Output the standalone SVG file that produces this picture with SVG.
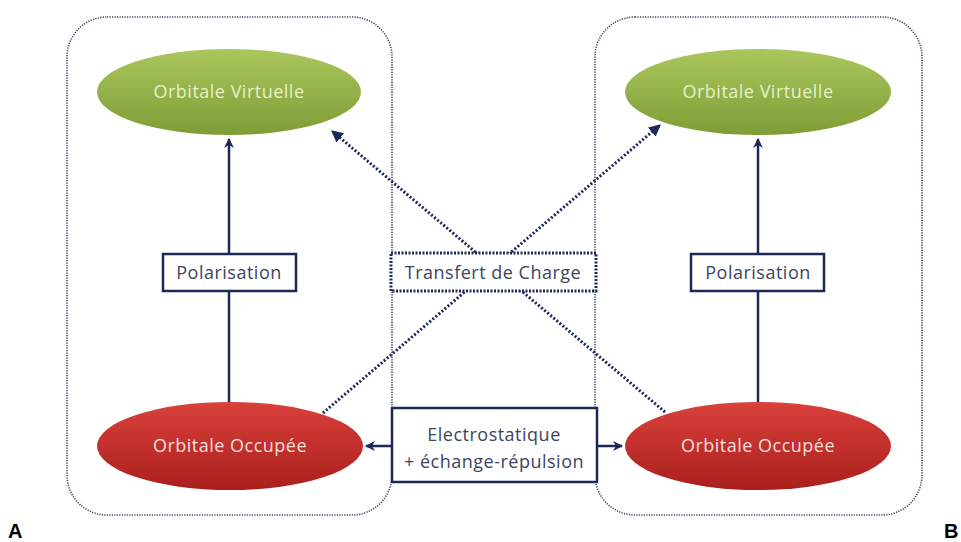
<svg xmlns="http://www.w3.org/2000/svg" width="961" height="542" viewBox="0 0 961 542">
<defs>
<linearGradient id="gGreen" x1="0" y1="0" x2="0" y2="1">
<stop offset="0" stop-color="#a9c75c"/>
<stop offset="1" stop-color="#7f9d35"/>
</linearGradient>
<linearGradient id="gRed" x1="0" y1="0" x2="0" y2="1">
<stop offset="0" stop-color="#d9413b"/>
<stop offset="1" stop-color="#aa1f1d"/>
</linearGradient>
<marker id="arr" viewBox="0 0 10 10" refX="9" refY="5" markerWidth="4" markerHeight="4" orient="auto-start-reverse" markerUnits="strokeWidth">
<path d="M0,0 L10,5 L0,10 L3,5 Z" fill="#1c2858"/>
</marker>
<marker id="arrD" viewBox="0 0 10 10" refX="9" refY="5" markerWidth="4" markerHeight="4" orient="auto" markerUnits="strokeWidth">
<path d="M0,0 L10,5 L0,10 Z" fill="#1c2858"/>
</marker>
<style>
.container{fill:none;stroke:#3e4460;stroke-width:1.6;stroke-dasharray:1.2 1.3}
.oval-text{font-family:"Open Sans","Liberation Sans",sans-serif;font-size:18px;letter-spacing:0.5px;text-anchor:middle}
.box{fill:#fff;stroke:#1c2858;stroke-width:2.5}
.box-text{font-family:"Open Sans","Liberation Sans",sans-serif;font-size:18px;letter-spacing:0.5px;fill:#3c4560;text-anchor:middle}
.solid{stroke:#1c2858;stroke-width:2.5;fill:none}
.dotted{stroke:#1c2858;stroke-width:3;fill:none;stroke-dasharray:2 2}
.label{font-family:"Liberation Sans",Arial,sans-serif;font-size:20px;font-weight:bold;fill:#000}
</style>
</defs>
<rect width="961" height="542" fill="#fff"/>

<g id="containerA"><rect class="container" x="67" y="17" width="325" height="498" rx="40" ry="40"/></g>
<g id="containerB"><rect class="container" x="595" y="17" width="327" height="498" rx="40" ry="40"/></g>

<g id="connectors">
<line class="dotted" x1="323" y1="413" x2="660" y2="125" marker-end="url(#arrD)"/>
<line class="dotted" x1="665" y1="412" x2="332" y2="131" marker-end="url(#arrD)"/>
<line class="solid" x1="229" y1="402" x2="229" y2="139" marker-end="url(#arr)"/>
<line class="solid" x1="758" y1="402" x2="758" y2="139" marker-end="url(#arr)"/>
<line class="solid" x1="392" y1="446" x2="366" y2="446" marker-end="url(#arr)"/>
<line class="solid" x1="597" y1="446" x2="622" y2="446" marker-end="url(#arr)"/>
</g>

<g id="virtA">
<ellipse cx="229" cy="92" rx="132" ry="43" fill="url(#gGreen)"/>
<text class="oval-text" x="229" y="98" fill="#e6f0c8">Orbitale Virtuelle</text>
</g>
<g id="virtB">
<ellipse cx="758" cy="92" rx="133" ry="43" fill="url(#gGreen)"/>
<text class="oval-text" x="758" y="98" fill="#e6f0c8">Orbitale Virtuelle</text>
</g>
<g id="occA">
<ellipse cx="230" cy="446" rx="133" ry="44" fill="url(#gRed)"/>
<text class="oval-text" x="230" y="452" fill="#f6dede">Orbitale Occupée</text>
</g>
<g id="occB">
<ellipse cx="758" cy="446" rx="133" ry="44" fill="url(#gRed)"/>
<text class="oval-text" x="758" y="452" fill="#f6dede">Orbitale Occupée</text>
</g>

<g id="polA">
<rect class="box" x="163" y="254" width="133" height="37"/>
<text class="box-text" x="229" y="279">Polarisation</text>
</g>
<g id="polB">
<rect class="box" x="691" y="254" width="133" height="37"/>
<text class="box-text" x="758" y="279">Polarisation</text>
</g>
<g id="transfert">
<rect x="391" y="253" width="205" height="38" fill="#fff" stroke="#1c2858" stroke-width="3" stroke-dasharray="2 1.5"/>
<text class="box-text" x="493" y="279">Transfert de Charge</text>
</g>
<g id="electro">
<rect class="box" x="392" y="408" width="205" height="74"/>
<text class="box-text" x="494" y="441">Electrostatique</text>
<text class="box-text" x="494" y="468">+ échange-répulsion</text>
</g>

<g id="labels">
<text class="label" x="8" y="538">A</text>
<text class="label" x="944" y="538">B</text>
</g>
</svg>
